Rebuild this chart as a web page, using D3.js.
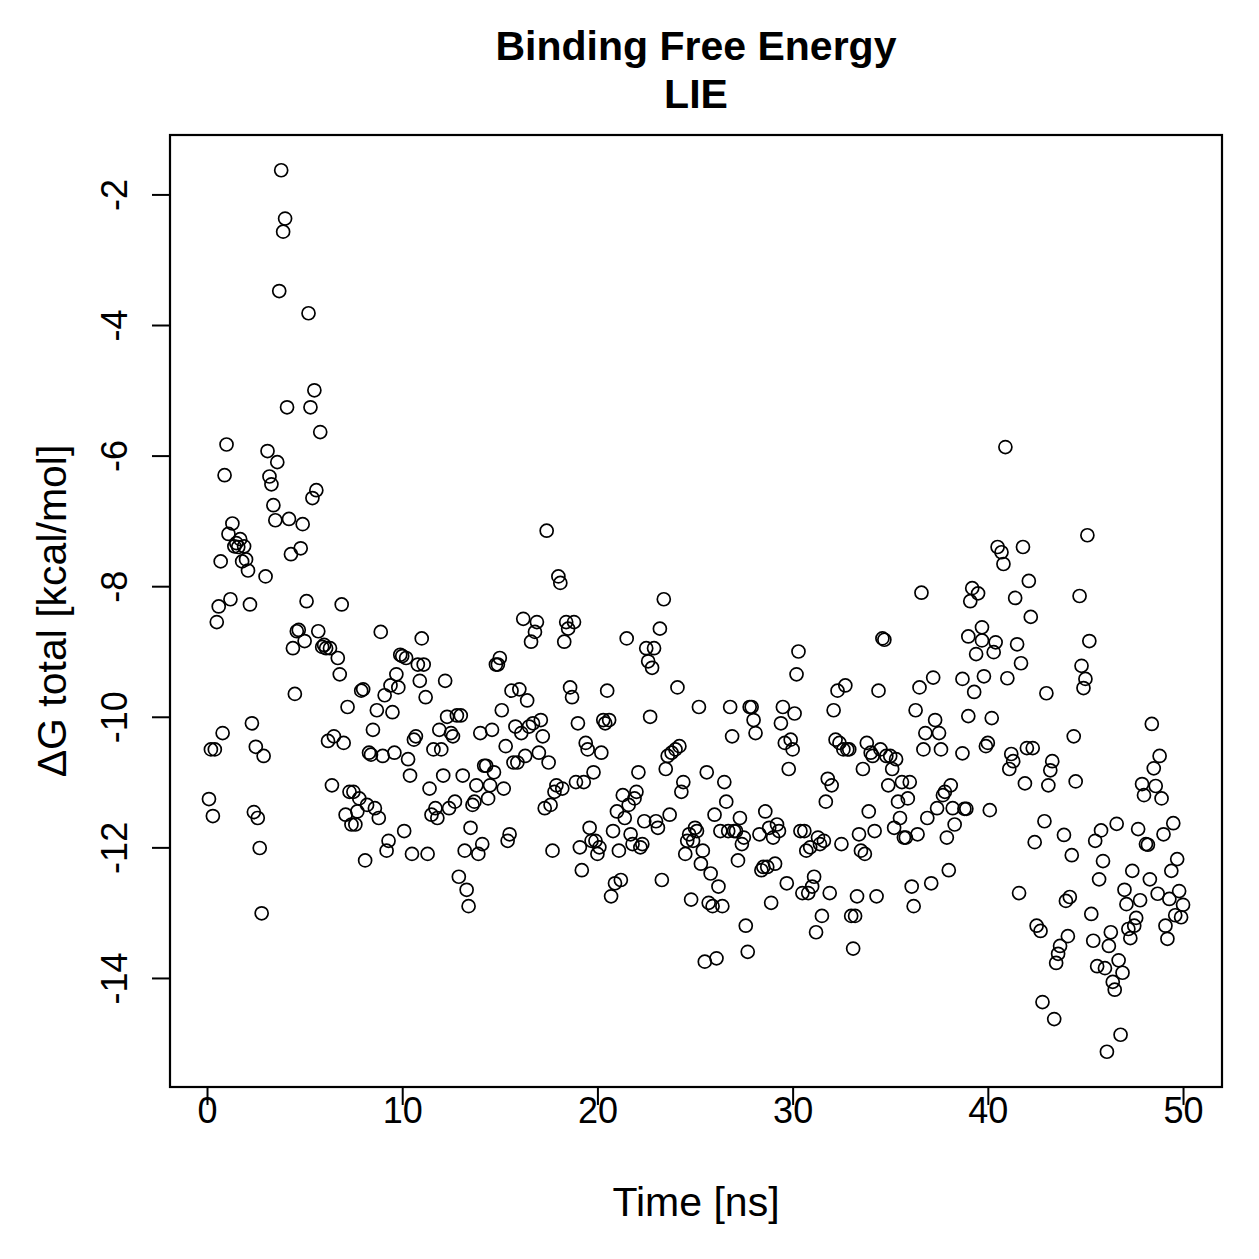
<!DOCTYPE html>
<html>
<head>
<meta charset="utf-8">
<script src="https://cdn.jsdelivr.net/npm/d3@7"></script>
<style>
    body { margin: 0; background: #fff; }
    text { font-family: "Liberation Sans", Arial, Helvetica, sans-serif; fill: #000; }
</style>
</head>
<body>
<div id="chart"></div>
<script>
// Datos (tiempo en ns, energia en kcal/mol)
const time = [
    0.1,0.2,0.3,0.4,0.5,0.6,0.7,0.8,0.9,1.0,
    1.1,1.2,1.3,1.4,1.5,1.6,1.7,1.8,1.9,2.0,
    2.1,2.2,2.3,2.4,2.5,2.6,2.7,2.8,2.9,3.0,
    3.1,3.2,3.3,3.4,3.5,3.6,3.7,3.8,3.9,4.0,
    4.1,4.2,4.3,4.4,4.5,4.6,4.7,4.8,4.9,5.0,
    5.1,5.2,5.3,5.4,5.5,5.6,5.7,5.8,5.9,6.0,
    6.1,6.2,6.3,6.4,6.5,
    6.7,6.8,6.9,7.0,
    7.1,7.2,7.3,7.4,7.5,7.6,7.7,7.8,7.9,8.0,
    8.1,8.2,8.3,8.4,8.5,8.6,8.7,8.8,8.9,9.0,
    9.1,9.2,9.3,9.4,9.5,9.6,9.7,9.8,9.9,10.0,
    10.1,10.2,10.3,10.4,10.5,10.6,10.7,10.8,10.9,11.0,
    11.1,11.2,11.3,11.4,11.5,11.6,11.7,11.8,11.9,12.0,
    12.1,12.2,12.3,12.4,12.5,12.6,12.7,12.8,12.9,13.0,
    13.1,13.2,13.3,13.4,13.5,13.6,13.7,13.8,13.9,14.0,
    14.1,14.2,14.3,14.4,14.5,14.6,14.7,14.8,14.9,15.0,
    15.1,15.2,15.3,15.4,15.5,15.6,15.7,15.8,15.9,16.0,
    16.1,16.2,16.3,16.4,16.5,16.6,16.7,16.8,16.9,17.0,
    17.1,17.2,17.3,17.4,17.5,17.6,17.7,17.8,17.9,18.0,
    18.1,18.2,18.3,18.4,18.5,18.6,18.7,18.8,18.9,19.0,
    19.1,19.2,19.3,19.4,19.5,19.6,19.7,19.8,19.9,20.0,
    20.1,20.2,20.3,20.4,20.5,20.6,20.7,20.8,20.9,21.0,
    21.1,21.2,21.3,21.4,21.5,21.6,21.7,21.8,21.9,22.0,
    22.1,22.2,22.3,22.4,22.5,22.6,22.7,22.8,22.9,23.0,
    23.1,23.2,23.3,23.4,23.5,23.6,23.7,23.8,
    24.0,
    24.1,24.2,24.3,24.4,24.5,24.6,24.7,24.8,24.9,25.0,
    25.1,25.2,25.3,25.4,25.5,25.6,25.7,25.8,25.9,26.0,
    26.1,26.2,26.3,26.4,26.5,26.6,26.7,26.8,26.9,27.0,
    27.1,27.2,27.3,27.4,27.5,27.6,27.7,27.8,27.9,28.0,
    28.1,
    28.3,28.4,28.5,28.6,28.7,28.8,28.9,29.0,
    29.1,29.2,29.3,29.4,29.5,29.6,29.7,29.8,29.9,30.0,
    30.1,30.2,30.3,30.4,30.5,30.6,30.7,30.8,30.9,31.0,
    31.1,31.2,31.3,31.4,31.5,31.6,31.7,31.8,31.9,32.0,
    32.1,32.2,32.3,32.4,32.5,32.6,32.7,32.8,32.9,33.0,
    33.1,33.2,33.3,33.4,33.5,33.6,33.7,33.8,33.9,34.0,
    34.1,34.2,34.3,34.4,34.5,34.6,34.7,34.8,34.9,35.0,
    35.1,35.2,35.3,35.4,35.5,35.6,35.7,35.8,35.9,36.0,
    36.1,36.2,36.3,36.4,36.5,36.6,36.7,36.8,36.9,
    37.1,37.2,37.3,37.4,37.5,37.6,37.7,37.8,37.9,38.0,
    38.1,38.2,38.3,
    38.7,38.7,38.8,38.9,39.0,39.0,39.1,39.2,39.3,39.4,
    39.5,39.7,39.7,39.8,39.9,40.0,40.1,40.2,40.3,40.4,
    40.5,40.7,40.8,40.9,41.0,41.1,41.2,41.3,41.4,41.5,
    41.6,41.7,41.8,41.9,42.0,42.1,42.2,42.3,42.4,42.5,
    42.7,42.8,42.9,43.0,43.1,43.2,43.3,43.4,43.5,43.6,
    43.7,43.9,44.0,44.1,44.2,44.3,44.4,44.5,44.7,44.8,
    44.9,45.0,45.1,45.2,45.3,45.4,45.5,45.6,45.7,45.8,
    45.9,46.0,46.1,46.2,46.3,46.4,46.5,46.6,46.7,46.8,
    46.9,47.0,47.1,47.2,47.3,47.4,47.5,47.6,47.7,47.8,
    47.9,48.0,48.1,48.2,48.3,48.4,48.5,48.6,48.7,48.8,
    48.9,49.0,49.1,49.2,49.3,49.4,49.5,49.6,49.7,49.8,
    49.9,50.0
]

const dG = [
    // 0.1 - 5.9 ns
    -11.26,-10.50,-11.52,-10.50,-8.55,-8.31,-7.62,-10.25,-6.30,-5.83,
    -7.20,-8.20,-7.04,-7.39,-7.34,-7.40,-7.28,-7.62,-7.39,-7.59,
    -7.76,-8.28,-10.10,-11.46,-10.46,-11.55,-12.01,-13.01,-10.60,-7.85,
    -5.93,-6.32,-6.44,-6.76,-6.99,-6.10,-3.48,-1.63,-2.57,-2.37,
    -5.26,-6.97,-7.51,-8.95,-9.65,-8.69,-8.67,-7.42,-7.05,-8.84,
    -8.23,-3.82,-5.26,-6.65,-5.00,-6.53,-8.69,-5.64,-8.93,
    // 6.0 - 38.3 ns
    -8.90,-8.95,-10.37,-8.95,-11.05,-10.30,
    -9.10,-9.35,-8.28,-10.40,-11.50,-9.85,-11.15,-11.65,-11.15,-11.65,
    -11.45,-11.25,-9.60,-9.58,-12.20,-11.35,-10.55,-10.58,-10.20,-11.40,
    -9.90,-11.55,-8.70,-10.60,-9.67,-12.05,-11.90,-9.52,-9.93,-10.55,
    -9.35,-9.55,-9.05,-9.07,-11.75,-9.10,-10.65,-10.90,-12.10,-10.35,
    -10.30,-9.20,-9.45,-8.80,-9.20,-9.70,-12.10,-11.10,-11.50,-10.50,
    -11.40,-11.55,-10.20,-10.50,-10.90,-9.45,-10.00,-11.40,-10.25,-10.30,
    -11.30,-9.98,-12.45,-9.98,-10.90,-12.05,-12.65,-12.90,-11.70,-11.35,
    -11.30,-11.05,-12.10,-10.25,-11.95,-10.75,-10.75,-11.25,-11.05,-10.20,
    -10.85,-9.20,-9.20,-9.10,-9.90,-11.10,-10.45,
    -11.90,-11.80,-9.60,-10.70,-10.15,-10.70,-9.58,-10.25,-8.50,-10.60,
    -9.75,-10.15,-8.85,-10.10,-8.70,-8.55,-10.55,-10.05,-10.30,-11.40,
    -7.15,-10.70,-11.35,-12.05,-11.15,-11.05,-7.85,-7.95,-11.10,-8.85,
    -8.55,-8.65,-9.55,-9.70,-8.55,-11.00,-10.10,-12.00,-12.35,-11.00,
    -10.40,-10.50,-11.70,-11.90,-10.85,-11.90,-12.10,-12.00,-10.55,-10.05,
    -10.10,-9.60,-10.05,-12.75,-11.75,-12.55,-11.45,-12.05,-12.50,-11.20,
    -11.55,-8.80,-11.35,-11.80,-11.95,-11.25,-11.15,-10.85,-12.00,-11.95,
    -11.60,-8.95,-9.15,-10.00,-9.25,-8.95,-11.60,-11.70,-8.65,-12.50,
    -8.20,-10.80,-10.60,-11.50,-10.55,
    -10.50,-9.55,-10.45,-11.15,-11.00,-12.10,-11.90,-11.80,-12.80,-11.90,
    -11.70,-11.75,-9.85,-12.25,-12.05,-13.75,-10.85,-12.85,-12.40,-12.90,
    -11.50,-13.70,-12.60,-11.75,-12.90,-11.00,-11.30,-11.75,-9.85,-10.30,
    -11.75,-11.75,-12.20,-11.55,-11.95,-11.85,-13.20,-13.60,-9.85,-9.85,
    -10.05,-10.25,
    -11.80,-12.35,-12.30,-11.45,-12.30,-11.70,-12.85,-11.85,-12.25,-11.65,
    -11.75,-10.10,-9.85,-10.40,-12.55,-10.80,-10.35,-10.50,-9.95,-9.35,
    -9.00,-11.75,-12.70,-11.75,-12.05,-12.70,-12.00,-12.60,-12.45,-13.30,
    -11.85,-11.95,-13.05,-11.90,-11.30,-10.95,-12.70,-11.05,-9.90,-10.35,
    -9.60,-10.40,-11.95,-10.50,
    -9.52,-10.50,-10.50,-13.05,-13.55,-13.05,-12.75,-11.80,-12.05,-10.80,
    -12.10,-10.40,-11.45,-10.55,-10.60,-11.75,-12.75,-9.60,-10.50,-8.80,
    -8.82,-10.60,-11.05,-10.60,-10.80,-11.70,-10.65,-11.30,-11.55,-11.00,
    -11.85,-11.85,-11.25,-11.00,-12.60,-12.90,-9.90,-11.80,-9.55,-8.10,
    -10.50,-10.25,-11.55,
    -12.55,-9.40,-10.05,-11.40,-10.25,-10.50,-11.20,-11.15,-11.85,-12.35,
    -11.05,-11.40,-11.65,
    // 38.7 - 50 ns
    -10.56,-9.42,-11.41,-11.41,-9.99,-8.77,-8.23,-8.03,-9.62,-9.04,
    -8.11,-8.83,-8.63,-9.38,-10.45,-10.40,-11.43,-10.02,-9.01,-8.86,
    -7.40,-7.48,-7.66,-5.87,-9.41,-10.80,-10.57,-10.68,-8.18,-8.89,
    -12.70,-9.18,-7.40,-11.02,-10.48,-7.92,-8.47,-10.48,-11.92,-13.20,
    -13.28,-14.37,-11.60,-9.64,-11.05,-10.82,-10.68,-14.63,-13.77,-13.63,
    -13.51,-11.81,-12.82,-13.36,-12.76,-12.12,-10.30,-10.99,-8.15,-9.22,
    -9.56,-9.42,-7.22,-8.84,-13.02,-13.43,-11.90,-13.82,-12.49,-11.74,
    -12.21,-13.85,-15.13,-13.51,-13.30,-14.06,-14.18,-11.64,-13.73,-14.87,
    -13.92,-12.65,-12.87,-13.25,-13.39,-12.36,-13.20,-13.08,-11.72,-12.81,
    -11.03,-11.20,-11.95,-11.96,-12.49,-10.11,-10.79,-11.06,-12.71,-10.60,
    -11.25,-11.80,-13.20,-13.40,-12.79,-12.36,-11.63,-13.04,-12.18,-12.67,
    -13.07,-12.88
]

const xTicks = [0, 10, 20, 30, 40, 50]
const yTicks = [-14, -12, -10, -8, -6, -4, -2]
const titleLines = ["Binding Free Energy", "LIE"]
const xLabel = "Time [ns]"
const yLabel = "\u0394G total [kcal/mol]"

if (time.length !== dG.length) console.error("longitudes distintas", time.length, dG.length)

// Constantes:
const width = 1259
const height = 1259
const margins = { top: 135, bottom: 172, left: 170, right: 37 }
const innerW = width - margins.left - margins.right
const innerH = height - margins.top - margins.bottom

const svg = d3.select("#chart").append("svg").attr("width", width).attr("height", height)
svg.append("rect").attr("width", width).attr("height", height).attr("fill", "#fff")

// Escalas con el 4% extra como hace R:
const pad = (ext) => { const d = (ext[1] - ext[0]) * 0.04; return [ext[0] - d, ext[1] + d] }
const x = d3.scaleLinear().domain(pad(d3.extent(time))).range([0, innerW])
const y = d3.scaleLinear().domain(pad(d3.extent(dG))).range([innerH, 0])

const elementGroup = svg.append("g").attr("transform", `translate(${margins.left},${margins.top})`)

// Puntos:
const data = time.map((t, i) => ({ t: t, v: dG[i] }))
elementGroup.selectAll("circle").data(data).enter().append("circle")
    .attr("cx", d => x(d.t))
    .attr("cy", d => y(d.v))
    .attr("r", 6.5)
    .attr("fill", "none")
    .attr("stroke", "#000")
    .attr("stroke-width", 1.7)

// Caja:
elementGroup.append("rect")
    .attr("width", innerW).attr("height", innerH)
    .attr("fill", "none").attr("stroke", "#000").attr("stroke-width", 2.2)

// Ejes (con guion normal como en R):
const plain = d => String(d)
const groupX = svg.append("g").attr("transform", `translate(${margins.left},${margins.top + innerH})`)
groupX.call(d3.axisBottom(x).tickValues(xTicks).tickSize(18).tickFormat(plain))
groupX.select(".domain").remove()
groupX.selectAll(".tick line").attr("stroke-width", 2)
groupX.selectAll(".tick text").attr("y", 36).attr("dy", null).attr("font-size", 36)

const groupY = svg.append("g").attr("transform", `translate(${margins.left},${margins.top})`)
groupY.call(d3.axisLeft(y).tickValues(yTicks).tickSize(18).tickFormat(plain))
groupY.select(".domain").remove()
groupY.selectAll(".tick line").attr("stroke-width", 2)
groupY.selectAll(".tick text")
    .attr("x", 0).attr("dy", null)
    .attr("text-anchor", "middle")
    .attr("font-size", 36)
    .attr("transform", "translate(-43,0) rotate(-90)")

// Titulos:
svg.append("text").attr("x", margins.left + innerW / 2).attr("y", 1216)
    .attr("text-anchor", "middle").attr("font-size", 41).text(xLabel)
svg.append("text")
    .attr("transform", `translate(66,${margins.top + innerH / 2}) rotate(-90)`)
    .attr("text-anchor", "middle").attr("font-size", 41).text(yLabel)
svg.selectAll(".title").data(titleLines).enter().append("text")
    .attr("class", "title")
    .attr("x", margins.left + innerW / 2)
    .attr("y", (d, i) => 60 + i * 48)
    .attr("text-anchor", "middle").attr("font-size", 41).attr("font-weight", "bold")
    .text(d => d)
</script>
</body>
</html>
